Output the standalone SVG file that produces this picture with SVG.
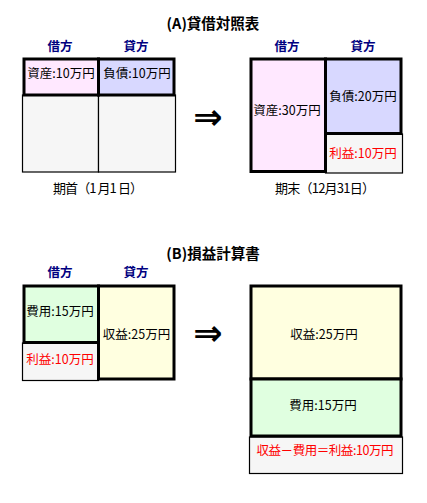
<svg xmlns="http://www.w3.org/2000/svg" width="427" height="503" viewBox="0 0 427 503">
<style>
text{font-family:"Noto Sans CJK JP","Noto Sans CJK SC",sans-serif;font-size:12.5px;fill:#000;text-anchor:middle}
.title{font-size:14.5px;font-weight:bold}
.hd{font-size:12.5px;font-weight:bold;fill:#000080}
.cap{font-size:13px}
.red{fill:#ff0000}
.thick{stroke:#000;stroke-width:3}
.thin{stroke:#000;stroke-width:1.2}
.pink{fill:#ffe8ff}.lav{fill:#d8d8ff}.gray{fill:#f6f6f6}.grn{fill:#e0ffe0}.yel{fill:#ffffe0}
.arrow{font-size:35px;font-weight:bold;font-family:"DejaVu Sans",sans-serif}
</style>
<rect width="427" height="503" fill="#fff"/>
<text class="title" x="213" y="29">(A)貸借対照表</text>
<text class="title" x="213" y="259">(B)損益計算書</text>

<g id="bs-start">
<text class="hd" x="60" y="51">借方</text>
<text class="hd" x="136" y="51">貸方</text>
<rect class="thin gray" x="22.5" y="95" width="76" height="77"/>
<rect class="thin gray" x="98.5" y="95" width="77" height="77"/>
<rect class="thick pink" x="24" y="59" width="74.5" height="36"/>
<rect class="thick lav" x="98.5" y="59" width="75.5" height="36"/>
<text x="61" y="78">資産:10万円</text>
<text x="137" y="78">負債:10万円</text>
<text class="cap" x="98" y="193" textLength="90" lengthAdjust="spacing">期首（1 月1 日）</text>
</g>

<g id="bs-end">
<text class="hd" x="287" y="51">借方</text>
<text class="hd" x="363" y="51">貸方</text>
<rect class="thin gray" x="325.5" y="134" width="77" height="39"/>
<rect class="thick pink" x="251" y="59" width="74.5" height="112.5"/>
<rect class="thick lav" x="325.5" y="59" width="75.5" height="74.5"/>
<text x="287" y="114.5">資産:30万円</text>
<text x="363" y="100.5">負債:20万円</text>
<text class="red" x="363" y="157.5">利益:10万円</text>
<text class="cap" x="325" y="193" textLength="100" lengthAdjust="spacing">期末（12月31日）</text>
</g>

<g id="pl-start">
<text class="hd" x="60" y="277">借方</text>
<text class="hd" x="136" y="277">貸方</text>
<rect class="thin gray" x="22.5" y="343" width="76" height="37.5"/>
<rect class="thick grn" x="24" y="286" width="74.5" height="56.5"/>
<rect class="thick yel" x="98.5" y="286" width="75.5" height="93"/>
<text x="60" y="315.5">費用:15万円</text>
<text class="red" x="60" y="363.5">利益:10万円</text>
<text x="136.5" y="338.5">収益:25万円</text>
</g>

<g id="pl-end">
<rect class="thin gray" x="249.5" y="437" width="153" height="36.5"/>
<rect class="thick yel" x="251" y="286" width="150" height="93"/>
<rect class="thick grn" x="251" y="379" width="150" height="57"/>
<text x="324" y="338.5">収益:25万円</text>
<text x="323" y="410">費用:15万円</text>
<text class="red" x="325" y="455" textLength="137" lengthAdjust="spacing">収益－費用＝利益:10万円</text>
</g>

<g id="connectors">
<text class="arrow" x="208" y="129">⇒</text>
<text class="arrow" x="208" y="345">⇒</text>
</g>
</svg>
